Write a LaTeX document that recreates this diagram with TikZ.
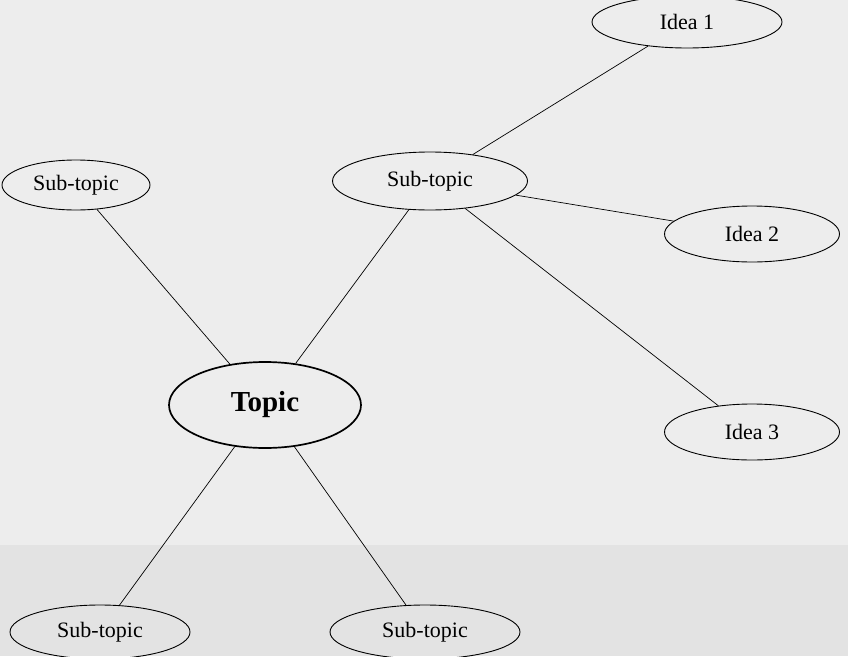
\documentclass[tikz,border=0pt]{standalone}
\usepackage{fontspec}
\setmainfont{Liberation Serif}
\usepackage{tikz}
\usetikzlibrary{shapes.geometric, backgrounds}
\tikzset{
    normal/.style={draw, semithick},
    sub/.style={style=normal, ellipse, line width=0.9pt, minimum width=185pt, minimum height=54pt, font=\fontsize{22}{24}\selectfont}, % sub-topics and ideas
    top/.style={style=normal, ellipse, line width=1.7pt, minimum width=192pt, minimum height=86pt, font=\fontsize{29}{31}\selectfont\bfseries}, % main topic
    te/.style={style=normal, line width=0.7pt} % edges
}

\begin{document}
\begin{tikzpicture}[x=1pt, y=-1pt]
        \fill[black!7] (0,0) rectangle (848,656);
        \fill[black!11] (0,545) rectangle (848,656);
        \useasboundingbox (0,0) rectangle (848,656);

        \node[top] (T) at (265, 405) {Topic};
        \node[sub, minimum width=148pt, minimum height=50pt] (SW1) at (76, 185) {Sub-topic};
        \node[sub, minimum width=195pt, minimum height=58pt] (SM) at (430, 181) {Sub-topic};
        \node[sub, minimum width=190pt, minimum height=52pt] (I1) at (687, 22) {Idea 1};
        \node[sub, minimum width=175pt, minimum height=56pt] (I2) at (752, 234) {Idea 2};
        \node[sub, minimum width=175pt, minimum height=56pt] (I3) at (752, 432) {Idea 3};
        \node[sub, minimum width=180pt, minimum height=54pt] (SB1) at (100, 632) {Sub-topic};
        \node[sub, minimum width=190pt, minimum height=54pt] (SB2) at (425, 632) {Sub-topic};

        \draw[te]
        (T) -- (SW1)
        (T) -- (SM)
        (T) -- (SB1)
        (T) -- (SB2)
        (SM) -- (I1)
        (SM) -- (I2)
        (SM) -- (I3);
\end{tikzpicture}
\end{document}
